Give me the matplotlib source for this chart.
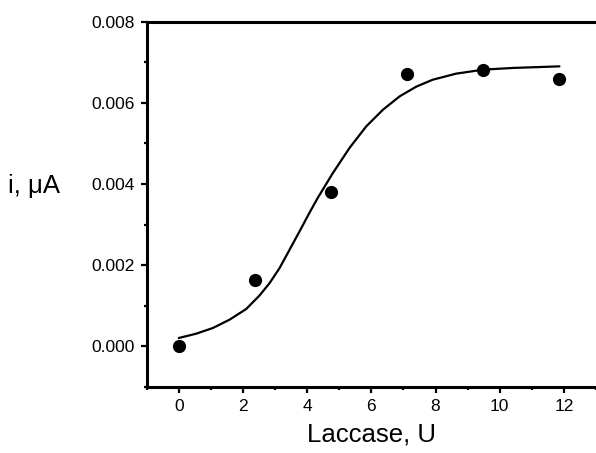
import matplotlib
matplotlib.use("Agg")
import matplotlib.pyplot as plt
from matplotlib.ticker import MultipleLocator, FormatStrFormatter

plt.rcParams['font.family'] = ['Liberation Sans', 'DejaVu Sans']

# measured points
laccase_u = [0.0, 2.37, 4.74, 7.11, 9.48, 11.85]
current_ua = [0.0, 0.00163, 0.0038, 0.0067, 0.0068, 0.0066]

# fitted curve
fit_x = [0.0, 0.54, 1.06, 1.58, 2.10, 2.51, 2.83, 3.14, 3.45, 3.76, 4.07,
         4.33, 4.80, 5.32, 5.84, 6.36, 6.88, 7.40, 7.91, 8.64, 9.50, 10.40,
         11.86]
fit_y = [0.000207, 0.000313, 0.000453, 0.000658, 0.000921, 0.00125,
         0.00156, 0.00193, 0.00238, 0.00283, 0.00329, 0.00366, 0.00427,
         0.00489, 0.00542, 0.00583, 0.00616, 0.00640, 0.00657, 0.00672,
         0.00682, 0.00686, 0.00690]

W, H = 596, 453
fig = plt.figure(figsize=(W / 100, H / 100), dpi=100)
ax = fig.add_axes([146.7 / W, (H - 387) / H, (W - 146.7) / W, (387 - 21.7) / H])

ax.plot(fit_x, fit_y, color='black', lw=1.6, solid_capstyle='round',
        solid_joinstyle='round')
ax.plot(laccase_u, current_ua, 'o', color='black', ms=8.5, zorder=3)

ax.set_xlim(-1, 13.0)
ax.set_ylim(-0.001, 0.008)
ax.xaxis.set_major_locator(MultipleLocator(2))
ax.xaxis.set_minor_locator(MultipleLocator(1))
ax.yaxis.set_major_locator(MultipleLocator(0.002))
ax.yaxis.set_minor_locator(MultipleLocator(0.001))
ax.yaxis.set_major_formatter(FormatStrFormatter('%.3f'))

for s in ['left', 'bottom', 'top']:
    ax.spines[s].set_linewidth(2.2)
ax.spines['right'].set_visible(False)

ax.tick_params(which='major', direction='out', length=4.5, width=1.6,
               labelsize=12.5, pad=4)
ax.tick_params(which='minor', direction='out', length=2.5, width=1.6)
ax.tick_params(top=False, right=False)

ax.set_xlabel('Laccase, U', fontsize=18.5, labelpad=6)
fig.text(8 / W, 1 - 186 / H, 'i, \u03bcA', fontsize=18.5, va='center', ha='left')

fig.savefig('out.png', dpi=100)
